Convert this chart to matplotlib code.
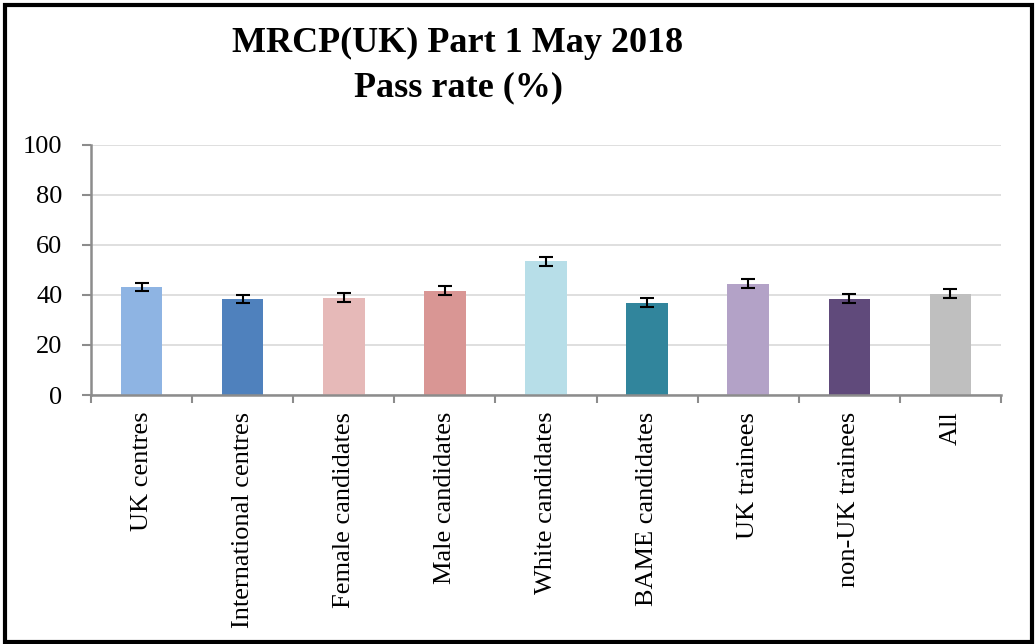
import matplotlib
matplotlib.use("Agg")
import matplotlib.pyplot as plt
from matplotlib.patches import Rectangle
import numpy as np

categories = ["UK centres", "International centres", "Female candidates", "Male candidates",
              "White candidates", "BAME candidates", "UK trainees", "non-UK trainees", "All"]
pass_rate = [43.3, 38.5, 38.9, 41.8, 53.6, 37.0, 44.5, 38.5, 40.5]
error = [1.7, 1.7, 1.8, 1.8, 1.8, 1.8, 1.8, 1.8, 1.8]
colors = ["#8EB4E3", "#4F81BD", "#E6B9B8", "#D99694", "#B7DEE8",
          "#31859C", "#B3A2C7", "#604A7B", "#BFBFBF"]
yticks = [0, 20, 40, 60, 80, 100]

serif = ["Liberation Serif", "DejaVu Serif"]

fig = plt.figure(figsize=(10.36, 6.44), dpi=100)
ax = fig.add_axes([91/1036, 1-395/644, 910/1036, 250/644])

x = np.arange(len(categories))
ax.bar(x, pass_rate, width=0.41, color=colors, zorder=2)
ax.errorbar(x, pass_rate, yerr=error, fmt="none", ecolor="black",
            elinewidth=1.5, capsize=5, capthick=1.5, zorder=3)

ax.set_xlim(-0.5, len(categories) - 0.5)
ax.set_ylim(0, 100)
ax.set_yticks(yticks)
ax.set_yticklabels([str(t) for t in yticks], fontfamily=serif, fontsize=19)
ax.yaxis.grid(True, color="#D9D9D9", linewidth=1.2, zorder=0)
ax.set_axisbelow(True)

ax.set_xticks(np.arange(-0.5, len(categories)), minor=False)
ax.set_xticklabels([])
ax.set_xticks(x, minor=True)
ax.set_xticklabels(categories, minor=True, rotation=90, fontfamily=serif,
                   fontsize=19, va="top", ha="center")
ax.tick_params(axis="x", which="minor", length=0, pad=12)
ax.tick_params(axis="x", which="major", length=6, width=1.5, color="#8C8C8C", direction="out")
ax.tick_params(axis="y", length=6.5, width=1.5, color="#8C8C8C", direction="out", pad=14)

for s in ["top", "right"]:
    ax.spines[s].set_visible(False)
for s in ["left", "bottom"]:
    ax.spines[s].set_color("#8C8C8C")
    ax.spines[s].set_linewidth(1.8)

fig.text(458/1036, 1-43/644, "MRCP(UK) Part 1 May 2018", ha="center", va="center",
         fontfamily=serif, fontweight="bold", fontsize=26)
fig.text(458/1036, 1-88/644, "Pass rate (%)", ha="center", va="center",
         fontfamily=serif, fontweight="bold", fontsize=26)

fig.patches.append(Rectangle((5/1036, 2/644), 1027/1036, 637/644, transform=fig.transFigure,
                             fill=False, edgecolor="black", linewidth=3, zorder=10))

fig.savefig("out.png", dpi=100)
